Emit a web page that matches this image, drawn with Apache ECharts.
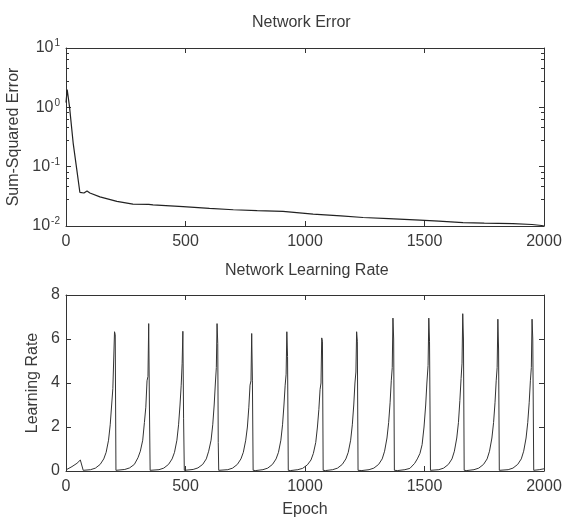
<!DOCTYPE html>
<html>
<head>
<meta charset="utf-8">
<script src="https://cdn.jsdelivr.net/npm/echarts@6/dist/echarts.min.js"></script>
<style>
  html, body { margin: 0; padding: 0; background: #fff; }
  #main { width: 562px; height: 521px; }
</style>
</head>
<body>
<div id="main"></div>
<script>
// sum-squared error per epoch, [epoch, error]
const errorCurve = [
  [0, 1.2], [5, 2.0], [15, 1.0], [30, 0.25], [45, 0.09], [58, 0.037], [75, 0.036],
  [88, 0.039], [100, 0.036], [142, 0.031], [213, 0.026], [280, 0.0234], [346, 0.0232],
  [364, 0.0227], [490, 0.0212], [600, 0.0198], [700, 0.0188], [800, 0.0182],
  [908, 0.0177], [1034, 0.0158], [1150, 0.0148], [1243, 0.0139], [1350, 0.0133],
  [1481, 0.0126], [1560, 0.0121], [1661, 0.0114], [1750, 0.0112], [1870, 0.0110],
  [1950, 0.0106], [1990, 0.0102], [2000, 0.0100]
]

// learning rate per epoch, [epoch, rate], one line per cycle
const lrStart = [[0, 0.05], [25, 0.2], [46, 0.35], [60, 0.5], [67, 0.45], [72, 0.03]]
const lrCycles = [
  [[103, 0.06], [123, 0.13], [143, 0.3], [158, 0.55], [168, 0.85], [178, 1.4], [185, 2.1], [191, 3.0], [196, 3.75], [200, 3.8], [203, 6.33], [206, 6.2], [209, 0.03]],
  [[216, 0.02], [246, 0.07], [266, 0.14], [286, 0.3], [301, 0.6], [311, 0.9], [321, 1.4], [328, 2.2], [334, 2.9], [339, 4.1], [343, 4.3], [346, 6.7], [349, 3.0], [352, 0.03]],
  [[359, 0.02], [389, 0.06], [409, 0.13], [429, 0.3], [444, 0.55], [454, 0.85], [464, 1.4], [471, 2.1], [477, 3.0], [482, 3.9], [486, 4.9], [489, 6.35], [492, 2.4], [495, 0.03]],
  [[502, 0.02], [532, 0.07], [552, 0.14], [572, 0.3], [587, 0.55], [597, 0.9], [607, 1.4], [614, 2.1], [620, 3.0], [625, 4.0], [629, 4.7], [632, 6.7], [635, 5.8], [637, 1.3], [639, 0.03]],
  [[647, 0.02], [677, 0.06], [697, 0.13], [717, 0.3], [732, 0.55], [742, 0.85], [752, 1.4], [759, 2.0], [765, 2.9], [770, 3.9], [774, 4.1], [777, 6.25], [780, 4.1], [783, 0.03]],
  [[794, 0.02], [824, 0.06], [844, 0.13], [864, 0.3], [879, 0.55], [889, 0.85], [899, 1.4], [906, 2.1], [912, 3.0], [917, 3.9], [921, 4.4], [924, 6.33], [927, 5.2], [930, 0.03]],
  [[940, 0.02], [970, 0.06], [990, 0.12], [1010, 0.28], [1025, 0.5], [1035, 0.8], [1045, 1.3], [1052, 2.0], [1058, 2.8], [1063, 3.7], [1067, 4.0], [1070, 6.05], [1073, 5.9], [1076, 0.03]],
  [[1086, 0.02], [1116, 0.06], [1136, 0.13], [1156, 0.3], [1171, 0.55], [1181, 0.85], [1191, 1.4], [1198, 2.1], [1204, 3.0], [1209, 4.0], [1213, 4.5], [1216, 6.33], [1219, 5.9], [1222, 0.03]],
  [[1238, 0.02], [1268, 0.06], [1288, 0.13], [1308, 0.3], [1323, 0.55], [1333, 0.9], [1343, 1.5], [1350, 2.2], [1356, 3.1], [1361, 4.1], [1365, 4.7], [1368, 6.95], [1371, 6.0], [1374, 0.03]],
  [[1388, 0.02], [1418, 0.06], [1439, 0.12], [1459, 0.35], [1470, 0.55], [1481, 0.8], [1490, 1.2], [1498, 2.0], [1505, 3.0], [1510, 4.0], [1515, 4.8], [1518, 6.95], [1521, 5.9], [1525, 0.03]],
  [[1530, 0.02], [1560, 0.06], [1580, 0.13], [1600, 0.3], [1615, 0.55], [1625, 0.9], [1635, 1.5], [1642, 2.2], [1648, 3.2], [1653, 4.2], [1657, 4.9], [1660, 7.15], [1663, 6.0], [1666, 0.03]],
  [[1677, 0.02], [1707, 0.06], [1727, 0.13], [1747, 0.3], [1762, 0.55], [1772, 0.9], [1782, 1.5], [1789, 2.2], [1795, 3.1], [1800, 4.1], [1804, 4.7], [1807, 6.9], [1810, 5.5], [1813, 0.03]],
  [[1820, 0.02], [1850, 0.06], [1870, 0.13], [1890, 0.3], [1905, 0.55], [1915, 0.9], [1925, 1.5], [1932, 2.2], [1938, 3.1], [1943, 4.1], [1947, 4.7], [1950, 6.9], [1953, 6.0], [1957, 0.03]]
]
const lrEnd = [[1980, 0.06], [2000, 0.1]]

const xTicks = [0, 500, 1000, 1500, 2000]
const lrTicks = [0, 2, 4, 6, 8]
const errTicks = [0.01, 0.1, 1, 10]

const learningRate = lrStart.concat(...lrCycles, lrEnd)

const font = "'Liberation Sans', Arial, sans-serif"
const ink = '#333'
const textInk = '#3a3a3a'

const chart = echarts.init(document.getElementById('main'), null, { renderer: 'canvas' })

const xBase = (gridIndex, position, showLabels) => ({
  type: 'value', gridIndex, position,
  min: xTicks[0], max: xTicks[xTicks.length - 1], interval: 500,
  axisLine: { show: true, onZero: false, lineStyle: { color: ink, width: 1 } },
  axisTick: { show: true, inside: true, length: 5, lineStyle: { color: ink } },
  axisLabel: { show: showLabels, color: textInk, fontFamily: font, fontSize: 16, margin: 8, formatter: v => String(v) },
  splitLine: { show: false }
})

const supLabel = v => {
  const e = Math.round(Math.log10(v))
  return '{b|10}{s|' + e + '}'
}

const logY = (position, showLabels) => ({
  type: 'log', logBase: 10, gridIndex: 0, position,
  min: errTicks[0], max: errTicks[errTicks.length - 1],
  axisLine: { show: true, onZero: false, lineStyle: { color: ink, width: 1 } },
  axisTick: { show: true, inside: true, length: 5, lineStyle: { color: ink } },
  minorTick: { show: true, splitNumber: 5, length: 3, lineStyle: { color: ink } },
  axisLabel: {
    show: showLabels, margin: 6, formatter: supLabel,
    rich: {
      b: { color: textInk, fontFamily: font, fontSize: 16 },
      s: { color: textInk, fontFamily: font, fontSize: 10, padding: [0, 0, 9, 1] }
    }
  },
  splitLine: { show: false }
})

const linY = (position, showLabels) => ({
  type: 'value', gridIndex: 1, position,
  min: lrTicks[0], max: lrTicks[lrTicks.length - 1], interval: 2,
  axisLine: { show: true, onZero: false, lineStyle: { color: ink, width: 1 } },
  axisTick: { show: true, inside: true, length: 5, lineStyle: { color: ink } },
  axisLabel: { show: showLabels, color: textInk, fontFamily: font, fontSize: 16, margin: 6 },
  splitLine: { show: false }
})

const option = {
  backgroundColor: '#fff',
  animation: false,
  grid: [
    { left: 66, right: 18, top: 48, height: 178, outerBoundsMode: 'none' },
    { left: 66, right: 18, top: 295, height: 176, outerBoundsMode: 'none' }
  ],
  xAxis: [
    xBase(0, 'bottom', true),
    xBase(0, 'top', false),
    Object.assign(xBase(1, 'bottom', true), {
      name: 'Epoch', nameLocation: 'middle', nameGap: 31,
      nameTextStyle: { color: textInk, fontFamily: font, fontSize: 16 }
    }),
    xBase(1, 'top', false)
  ],
  yAxis: [
    Object.assign(logY('left', true), {
      name: 'Sum-Squared Error', nameLocation: 'middle', nameGap: 38,
      nameTextStyle: { color: textInk, fontFamily: font, fontSize: 16 }
    }),
    logY('right', false),
    Object.assign(linY('left', true), {
      name: 'Learning Rate', nameLocation: 'middle', nameGap: 22,
      nameTextStyle: { color: textInk, fontFamily: font, fontSize: 16 }
    }),
    linY('right', false)
  ],
  graphic: [
    { type: 'text', left: 252, top: 15, style: { text: 'Network Error', fill: textInk, font: '16px ' + font } },
    { type: 'text', left: 225, top: 263, style: { text: 'Network Learning Rate', fill: textInk, font: '16px ' + font } }
  ],
  series: [
    {
      type: 'line', xAxisIndex: 0, yAxisIndex: 0, data: errorCurve,
      showSymbol: false, lineStyle: { color: '#222', width: 1.2 }
    },
    {
      type: 'line', xAxisIndex: 2, yAxisIndex: 2, data: learningRate,
      showSymbol: false, lineStyle: { color: '#333', width: 1 }
    }
  ]
}

chart.setOption(option)
</script>
</body>
</html>
